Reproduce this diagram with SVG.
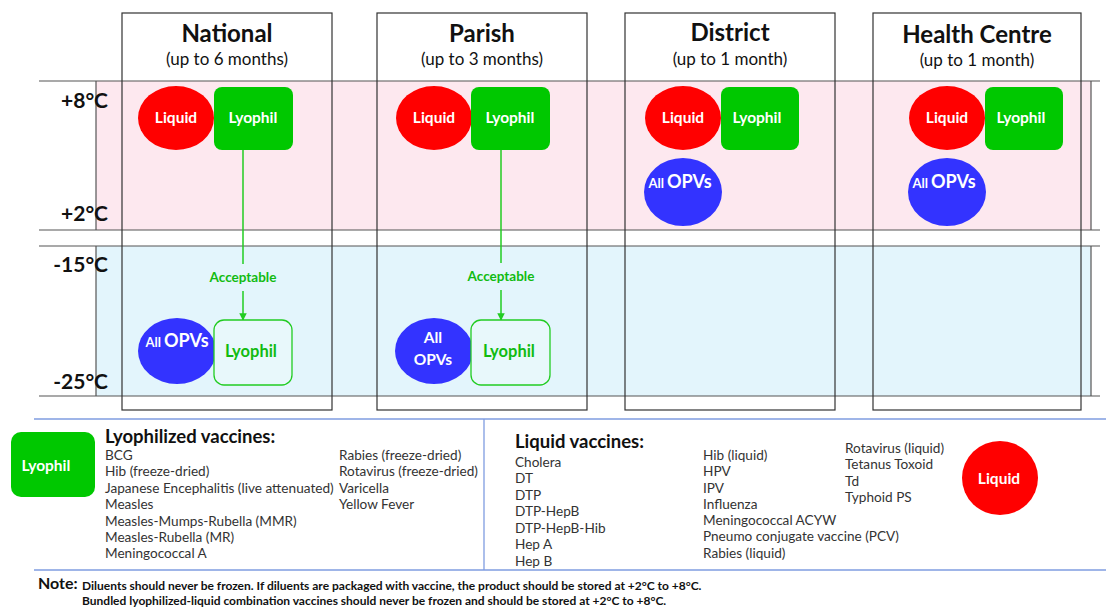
<svg xmlns="http://www.w3.org/2000/svg" width="1106" height="609" viewBox="0 0 1106 609">
  <style>
    text { font-family: "Lato", "Open Sans", "Liberation Sans", sans-serif; }
    .col { fill: none; stroke: #333; stroke-width: 1.2; }
    .rule { stroke: #555; stroke-width: 1.2; }
    .hdr { font-size: 24px; font-weight: bold; fill: #111; text-anchor: middle; }
    .sub { font-size: 17px; fill: #111; text-anchor: middle; }
    .temp { font-size: 21px; font-weight: bold; fill: #111; text-anchor: end; }
    .liq { fill: #ff0000; }
    .lyo { fill: #00c800; }
    .opv { fill: #3333ff; }
    .lyo-out { fill: #e8f8fb; stroke: #22cc22; stroke-width: 1.3; }
    .wt { fill: #fff; font-weight: bold; text-anchor: middle; font-size: 15.5px; }
    .gt { fill: #11bb11; font-weight: bold; text-anchor: middle; }
    .link { stroke: #22cc22; stroke-width: 1.5; fill: none; }
    .legline { stroke: #7f9ce0; stroke-width: 1.3; }
    .lh { font-size: 18.5px; font-weight: bold; fill: #111; }
    .li { font-size: 13.6px; fill: #333; }
    .note { font-size: 12px; font-weight: bold; fill: #111; }
  </style>
  <defs>
    <marker id="arr" viewBox="0 0 10 10" refX="9" refY="5" markerWidth="5" markerHeight="5" orient="auto">
      <path d="M0,0 L10,5 L0,10 z" fill="#22cc22"/>
    </marker>
  </defs>

  <!-- temperature bands -->
  <g id="bands">
    <rect x="96" y="81" width="995" height="149" fill="#fde8ef"/>
    <rect x="96" y="246" width="995" height="150" fill="#e3f5fc"/>
    <line class="rule" x1="39" y1="81" x2="1100" y2="81"/>
    <line class="rule" x1="39" y1="230" x2="1100" y2="230"/>
    <line class="rule" x1="39" y1="246" x2="1100" y2="246"/>
    <line class="rule" x1="39" y1="396" x2="1100" y2="396"/>
    <line class="rule" x1="96" y1="81" x2="96" y2="230"/>
    <line class="rule" x1="96" y1="246" x2="96" y2="396"/>
    <line class="rule" x1="1091" y1="81" x2="1091" y2="230"/>
    <line class="rule" x1="1091" y1="246" x2="1091" y2="396"/>
    <text class="temp" x="108" y="108">+8°C</text>
    <text class="temp" x="108" y="221">+2°C</text>
    <text class="temp" x="108" y="272">-15°C</text>
    <text class="temp" x="108" y="389">-25°C</text>
  </g>

  <!-- connectors -->
  <g id="connectors">
    <line class="link" x1="243" y1="150" x2="243" y2="264"/>
    <line class="link" x1="243" y1="291" x2="243" y2="320" marker-end="url(#arr)"/>
    <line class="link" x1="501" y1="150" x2="501" y2="263"/>
    <line class="link" x1="501" y1="290" x2="501" y2="320" marker-end="url(#arr)"/>
  </g>

  <g id="national">
    <rect class="col" x="122" y="13" width="210" height="397"/>
    <text class="hdr" x="227" y="42">National</text>
    <text class="sub" x="227" y="65">(up to 6 months)</text>
    <ellipse class="liq" cx="176" cy="118" rx="38" ry="32"/>
    <text class="wt" x="176" y="123">Liquid</text>
    <rect class="lyo" x="214" y="87" width="79" height="63" rx="8"/>
    <text class="wt" x="253" y="123">Lyophil</text>
    <text class="gt" x="243" y="282" font-size="13.5">Acceptable</text>
    <ellipse class="opv" cx="177" cy="351" rx="39" ry="33"/>
    <text class="wt" x="177" y="347"><tspan font-size="13">All </tspan><tspan font-size="18">OPVs</tspan></text>
    <rect class="lyo-out" x="214" y="320" width="78" height="65" rx="10"/>
    <text class="gt" x="251" y="357" font-size="16.5">Lyophil</text>
  </g>

  <g id="parish">
    <rect class="col" x="377" y="13" width="210" height="397"/>
    <text class="hdr" x="482" y="42">Parish</text>
    <text class="sub" x="482" y="65">(up to 3 months)</text>
    <ellipse class="liq" cx="434" cy="118" rx="38" ry="32"/>
    <text class="wt" x="434" y="123">Liquid</text>
    <rect class="lyo" x="471" y="87" width="79" height="63" rx="8"/>
    <text class="wt" x="510" y="123">Lyophil</text>
    <text class="gt" x="501" y="281" font-size="13.5">Acceptable</text>
    <ellipse class="opv" cx="434" cy="351" rx="39" ry="33"/>
    <text class="wt" x="433" y="343" font-size="13">All</text>
    <text class="wt" x="433" y="365" font-size="18">OPVs</text>
    <rect class="lyo-out" x="471" y="320" width="79" height="65" rx="10"/>
    <text class="gt" x="509" y="357" font-size="16.5">Lyophil</text>
  </g>

  <g id="district">
    <rect class="col" x="625" y="13" width="210" height="397"/>
    <text class="hdr" x="730" y="41">District</text>
    <text class="sub" x="730" y="65">(up to 1 month)</text>
    <ellipse class="liq" cx="683" cy="118" rx="38" ry="32"/>
    <text class="wt" x="683" y="123">Liquid</text>
    <rect class="lyo" x="721" y="87" width="78" height="63" rx="8"/>
    <text class="wt" x="757" y="123">Lyophil</text>
    <ellipse class="opv" cx="683" cy="192" rx="39" ry="34"/>
    <text class="wt" x="680" y="188"><tspan font-size="13">All </tspan><tspan font-size="18">OPVs</tspan></text>
  </g>

  <g id="health-centre">
    <rect class="col" x="873" y="13" width="208" height="397"/>
    <text class="hdr" x="977" y="43">Health Centre</text>
    <text class="sub" x="977" y="66">(up to 1 month)</text>
    <ellipse class="liq" cx="947" cy="118" rx="38" ry="32"/>
    <text class="wt" x="947" y="123">Liquid</text>
    <rect class="lyo" x="985" y="87" width="78" height="63" rx="8"/>
    <text class="wt" x="1021" y="123">Lyophil</text>
    <ellipse class="opv" cx="947" cy="192" rx="39" ry="34"/>
    <text class="wt" x="944" y="188"><tspan font-size="13">All </tspan><tspan font-size="18">OPVs</tspan></text>
  </g>

  <!-- legend -->
  <g id="legend">
    <line class="legline" x1="34" y1="419" x2="1106" y2="419"/>
    <line class="legline" x1="34" y1="570" x2="1106" y2="570"/>
    <line class="legline" x1="484" y1="419" x2="484" y2="570"/>

    <rect class="lyo" x="11" y="432" width="84" height="65" rx="10"/>
    <text class="wt" x="46" y="471" font-size="18.5">Lyophil</text>
    <text class="lh" x="105" y="443">Lyophilized vaccines:</text>
    <text class="li" x="105" y="460">BCG</text>
    <text class="li" x="105" y="476">Hib (freeze-dried)</text>
    <text class="li" x="105" y="493">Japanese Encephalitis (live attenuated)</text>
    <text class="li" x="105" y="509">Measles</text>
    <text class="li" x="105" y="526">Measles-Mumps-Rubella (MMR)</text>
    <text class="li" x="105" y="542">Measles-Rubella (MR)</text>
    <text class="li" x="105" y="558">Meningococcal  A</text>
    <text class="li" x="339" y="460">Rabies (freeze-dried)</text>
    <text class="li" x="339" y="476">Rotavirus (freeze-dried)</text>
    <text class="li" x="339" y="493">Varicella</text>
    <text class="li" x="339" y="509">Yellow Fever</text>

    <text class="lh" x="515" y="448">Liquid vaccines:</text>
    <text class="li" x="515" y="467">Cholera</text>
    <text class="li" x="515" y="483">DT</text>
    <text class="li" x="515" y="500">DTP</text>
    <text class="li" x="515" y="516">DTP-HepB</text>
    <text class="li" x="515" y="533">DTP-HepB-Hib</text>
    <text class="li" x="515" y="549">Hep A</text>
    <text class="li" x="515" y="566">Hep B</text>
    <text class="li" x="703" y="460">Hib (liquid)</text>
    <text class="li" x="703" y="476">HPV</text>
    <text class="li" x="703" y="493">IPV</text>
    <text class="li" x="703" y="509">Influenza</text>
    <text class="li" x="703" y="525">Meningococcal ACYW</text>
    <text class="li" x="703" y="541">Pneumo conjugate vaccine (PCV)</text>
    <text class="li" x="703" y="558">Rabies (liquid)</text>
    <text class="li" x="845" y="453">Rotavirus (liquid)</text>
    <text class="li" x="845" y="469">Tetanus Toxoid</text>
    <text class="li" x="845" y="486">Td</text>
    <text class="li" x="845" y="502">Typhoid PS</text>
    <ellipse class="liq" cx="1000" cy="478" rx="38" ry="37"/>
    <text class="wt" x="999" y="484" font-size="17">Liquid</text>
  </g>

  <!-- footnote -->
  <g id="note">
    <text x="38" y="589" font-size="16" font-weight="bold" fill="#111">Note:</text>
    <text class="note" x="82" y="590">Diluents should never be frozen. If diluents are packaged with vaccine, the product should be stored at +2°C to +8°C.</text>
    <text class="note" x="82" y="605">Bundled lyophilized-liquid combination vaccines should never be frozen and should be stored at +2°C to +8°C.</text>
  </g>
</svg>
